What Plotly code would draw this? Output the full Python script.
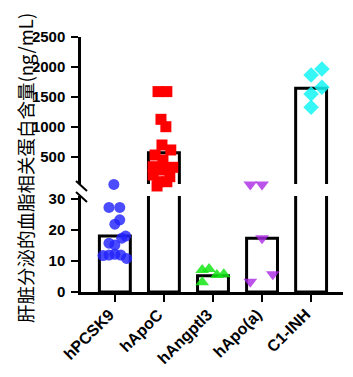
import plotly.graph_objects as go

categories = ["hPCSK9", "hApoC", "hAngptl3", "hApo(a)", "C1-INH"]
bar_values = [18.0, 572, 5.2, 17.3, 1645]

# individual points (values) and horizontal jitter offsets (category units)
pcsk9_vals = [34.6, 27.2, 27.2, 21.8, 23.2, 18.0, 17.3, 15.7, 15.1, 11.7, 12.1, 11.9, 10.8, 11.9]
pcsk9_jit = [-0.02, -0.12, 0.10, 0.0, 0.10, 0.22, 0.14, -0.12, 0.0, -0.24, 0.0, 0.12, 0.24, -0.12]

apoc_vals = [1590, 1590, 1128, 1005, 700, 617, 533, 450, 339, 328, 283, 200, 172, 88, 88, 17]
apoc_jit = [-0.12, 0.06, -0.06, 0.04, -0.04, 0.14, -0.18, -0.02, -0.22, 0.18, -0.02, -0.22, 0.12, -0.12, 0.06, -0.14]

angptl3_vals = [7.1, 7.4, 5.5, 5.7, 3.1]
angptl3_jit = [-0.22, -0.08, 0.08, 0.22, -0.22]

apoa_vals = [34.6, 34.6, 17.3, 3.3, 5.7]
apoa_jit = [-0.24, 0.0, 0.0, -0.24, 0.22]

c1_vals = [1967, 1867, 1662, 1550, 1328]
c1_jit = [0.22, 0.0, 0.22, 0.0, 0.0]

y_title = "肝脏分泌的血脂相关蛋白含量(ng/mL)"
low_ticks = [0, 10, 20, 30]
high_ticks = [500, 1000, 1500, 2000, 2500]

idx = list(range(len(categories)))

W, H = 353, 377
ml, mr, mt, mb = 81, 10, 37, 85
pw, ph = W - ml - mr, H - mt - mb
LOW_SCALE = 3.11   # px per unit, lower segment
HIGH_SCALE = 0.06  # px per unit, upper segment
X_SCALE = 49.06    # px per category


def py(p):
    return (H - mb - p) / ph


def px(p):
    return (p - ml) / pw


fig = go.Figure()

bar_style = dict(marker=dict(color="rgba(255,255,255,0)", line=dict(color="black", width=3)),
                 width=0.63, showlegend=False, hoverinfo="skip")
fig.add_trace(go.Bar(x=idx, y=bar_values, xaxis="x", yaxis="y", **bar_style))
fig.add_trace(go.Bar(x=idx, y=bar_values, xaxis="x", yaxis="y2", **bar_style))

groups = [
    (0, pcsk9_vals, pcsk9_jit, "circle", "rgba(35,35,255,0.82)", 11, "y3"),
    (1, apoc_vals, apoc_jit, "square", "rgb(255,0,0)", 11, "y4"),
    (2, angptl3_vals, angptl3_jit, "triangle-up", "rgba(20,230,20,0.85)", 12, "y3"),
    (3, apoa_vals, apoa_jit, "triangle-down", "rgba(170,40,230,0.8)", 12, "y3"),
    (4, c1_vals, c1_jit, "diamond", "rgba(20,245,245,0.85)", 12, "y4"),
]
for ci, vals, jit, sym, col, sz, yax in groups:
    xs = [ci + j for j in jit]
    fig.add_trace(go.Scatter(
        x=xs, y=vals, mode="markers", xaxis="x", yaxis=yax,
        marker=dict(symbol=sym, color=col, size=sz, line=dict(width=0)),
        cliponaxis=False, showlegend=False, hoverinfo="skip"))

# visible axes (bars)
low_top = 196
high_bot = 184
low_max = (H - mb - low_top) / LOW_SCALE
high_min = 2500 - (high_bot - mt) / HIGH_SCALE
# hidden axes for points (same scales, wider extent)
pt_low_top = 178
pt_high_bot = 192
pt_low_max = (H - mb - pt_low_top) / LOW_SCALE
pt_high_min = 2500 - (pt_high_bot - mt) / HIGH_SCALE

tickfont = dict(family="Liberation Sans, Arial", size=15, color="black", weight="bold")
xtickfont = dict(family="Liberation Sans, Arial", size=16, color="black", weight="bold")
ax_common = dict(showline=True, linecolor="black", linewidth=2.5,
                 ticks="outside", ticklen=7, tickwidth=2, tickcolor="black",
                 showgrid=False, zeroline=False, tickfont=tickfont, ticklabelstandoff=3,
                 automargin=False)

annotations = [dict(text=y_title, textangle=-90, x=px(25), y=py(168),
                    xref="paper", yref="paper", xanchor="center", yanchor="middle",
                    showarrow=False,
                    font=dict(family="Noto Sans CJK SC", size=18.5, color="black"))]
for i, lab in zip(idx, categories):
    annotations.append(dict(text=lab, textangle=-45, x=i + 5 / X_SCALE, y=py(303),
                            xref="x", yref="paper", xanchor="right", yanchor="top",
                            showarrow=False, font=xtickfont))

fig.update_layout(
    width=W, height=H,
    margin=dict(l=ml, r=mr, t=mt, b=mb, autoexpand=False),
    paper_bgcolor="white", plot_bgcolor="rgba(0,0,0,0)",
    barmode="overlay",
    xaxis=dict(domain=[0, 1], range=[-0.69, 4.65], tickvals=idx, ticktext=categories,
               showticklabels=False, showline=True, linecolor="black", linewidth=2.5,
               ticks="outside", ticklen=7, tickwidth=2, tickcolor="black",
               showgrid=False, zeroline=False, anchor="y", automargin=False),
    yaxis=dict(domain=[0, py(low_top)], range=[0, low_max], tickvals=low_ticks,
               anchor="x", **ax_common),
    yaxis2=dict(domain=[py(high_bot), 1], range=[high_min, 2500], tickvals=high_ticks,
                anchor="x", **ax_common),
    yaxis3=dict(domain=[0, py(pt_low_top)], range=[0, pt_low_max], visible=False,
                anchor="x", automargin=False),
    yaxis4=dict(domain=[py(pt_high_bot), 1], range=[pt_high_min, 2500], visible=False,
                anchor="x", automargin=False),
    annotations=annotations,
    shapes=[
        dict(type="line", xref="paper", yref="paper", x0=px(76), y0=py(181), x1=px(87), y1=py(191),
             line=dict(color="black", width=2)),
        dict(type="line", xref="paper", yref="paper", x0=px(76), y0=py(192), x1=px(87), y1=py(202),
             line=dict(color="black", width=2)),
    ],
)

fig.write_html("out.html")
